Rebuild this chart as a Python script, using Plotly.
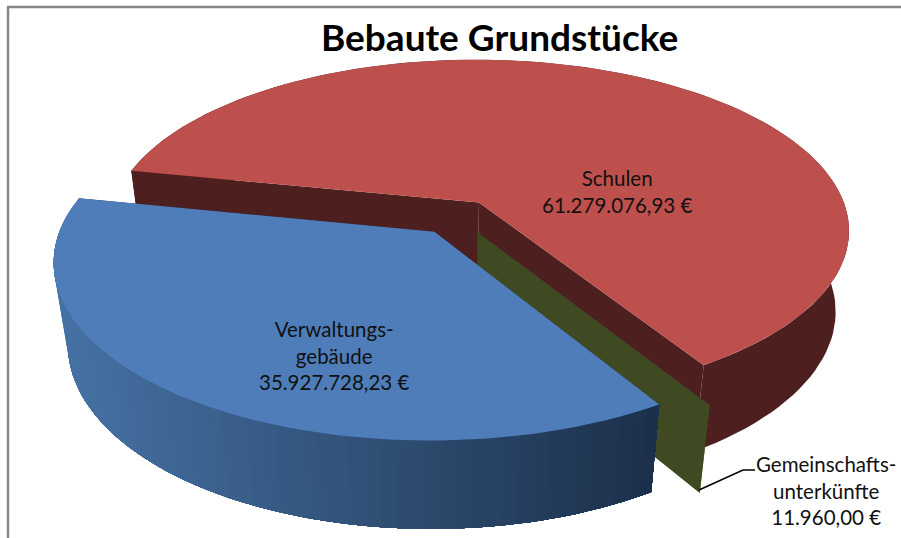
import math
import plotly.graph_objects as go

categories = ["Schulen", "Gemeinschafts-<br>unterkünfte", "Verwaltungs-<br>gebäude"]
values = [61279076.93, 11960.00, 35927728.23]
value_labels = ["61.279.076,93 €", "11.960,00 €", "35.927.728,23 €"]
title_text = "Bebaute Grundstücke"

W, H = 901, 538
START = 168.6      # first slice edge, degrees
EXPLODE = 0.105
CX, CY, R, S, K = 457.0, 217.0, 370.0, 170.0, 0.16
DROP, SHRINK = 84.0, 0.035


def proj(u, v, z=0.0):
    w = 1 + K * v + SHRINK * z
    return CX + R * u / w, CY + (-S * v + DROP * z) / w


def slice_geometry(a0, a1):
    mid = math.radians((a0 + a1) / 2)
    ox, oy = EXPLODE * math.cos(mid), EXPLODE * math.sin(mid)
    n = max(2, int(abs(a1 - a0) / 2))
    pts = [(ox + math.cos(math.radians(a0 + (a1 - a0) * i / n)),
            oy + math.sin(math.radians(a0 + (a1 - a0) * i / n))) for i in range(n + 1)]
    return (ox, oy), pts


def poly(fig, pts, color):
    xs = [p[0] for p in pts] + [pts[0][0]]
    ys = [p[1] for p in pts] + [pts[0][1]]
    fig.add_trace(go.Scatter(x=xs, y=ys, mode="lines", fill="toself", fillcolor=color,
                             line=dict(color=color, width=0), hoverinfo="skip", showlegend=False))


def lerp(c0, c1, t):
    t = min(1, max(0, t))
    return "rgb(%d,%d,%d)" % tuple(round(a + (b - a) * t) for a, b in zip(c0, c1))


def draw_slice(fig, a0, a1, top, side):
    apex, rim = slice_geometry(a0, a1)
    a_t, a_b = proj(*apex), proj(*apex, 1)
    # cut faces
    for edge in (rim[0], rim[-1]):
        wall = side if isinstance(side, str) else side[2]
        poly(fig, [a_t, proj(*edge), proj(*edge, 1), a_b], wall)
    # outer side
    if isinstance(side, str):
        poly(fig, [proj(*p) for p in rim] + [proj(*p, 1) for p in reversed(rim)], side)
    else:
        # rim runs right to left here; paint from the left so each band covers the seam
        order = sorted(range(len(rim)), key=lambda i: proj(*rim[i])[0])
        seq = rim[::-1] if order[0] > len(rim) // 2 else rim
        for i in range(len(seq) - 1):
            rest = seq[i:]
            c = lerp(side[0], side[1], (proj(*seq[i])[0] - 50) / 610)
            poly(fig, [proj(*p) for p in rest] + [proj(*p, 1) for p in reversed(rest)], c)
    if top:
        poly(fig, [a_t] + [proj(*p) for p in rim], top)


total = sum(values)
angles = [START]
for val in values:
    angles.append(angles[-1] - 360 * val / total)

fig = go.Figure()
RED_TOP, RED_SIDE = "#bd4f4c", "#4d1f1f"
GREEN_SIDE = "#3f4a22"
BLUE_TOP = "#4e7dba"
draw_slice(fig, angles[0], angles[1], RED_TOP, RED_SIDE)
draw_slice(fig, angles[1], angles[2], None, GREEN_SIDE)
draw_slice(fig, angles[2], angles[3], BLUE_TOP, ((70, 114, 165), (27, 47, 73), "#1c2f49"))

# leader line of the smallest slice
fig.add_trace(go.Scatter(x=[699, 743, 755], y=[490, 470, 470], mode="lines",
                         line=dict(color="#000000", width=1.5), hoverinfo="skip", showlegend=False))

FONT = "Lato, Carlito, Calibri, sans-serif"
positions = [(617, 191), (826, 490), (334, 355)]
for cat, lab, (x, y) in zip(categories, value_labels, positions):
    fig.add_annotation(x=x, y=y, text=f"{cat}<br>{lab}", showarrow=False,
                       font=dict(family=FONT, size=20.5, color="#111111"), align="center")

fig.add_annotation(x=499, y=36, text=f"<b>{title_text}</b>", showarrow=False,
                   font=dict(family=FONT, size=37, color="#000000"))

BORDER = "#868686"
fig.add_shape(type="line", x0=8, x1=8, y0=7, y1=H, line=dict(color=BORDER, width=2.5))
fig.add_shape(type="line", x0=7, x1=W, y0=7, y1=7, line=dict(color=BORDER, width=2.5))

fig.update_xaxes(range=[0, W], visible=False, fixedrange=True)
fig.update_yaxes(range=[H, 0], visible=False, fixedrange=True)
fig.update_layout(width=W, height=H, margin=dict(l=0, r=0, t=0, b=0),
                  paper_bgcolor="white", plot_bgcolor="white", showlegend=False)
fig.write_html("out.html", config={"displayModeBar": False},
               post_script="document.body.style.margin='0';document.body.style.overflow='hidden';")
